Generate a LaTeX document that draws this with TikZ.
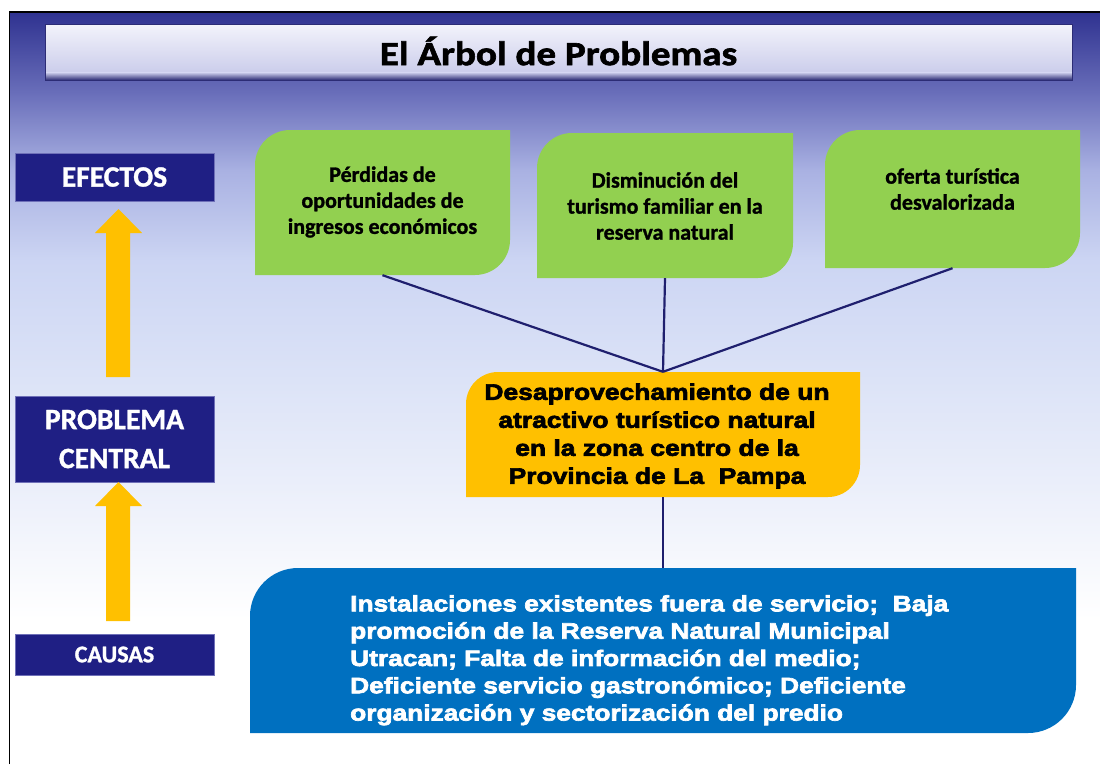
\documentclass[tikz,border=0pt]{standalone}
\usepackage{fontspec}
\newfontfamily\calfont{Carlito}[BoldFeatures={FakeBold=1.2}]
\newfontfamily\titlefont{Carlito}[FakeStretch=1.15,BoldFeatures={FakeBold=1.8}]
\newfontfamily\blkfont{Liberation Sans Bold}[FakeStretch=1.18,FakeBold=3]
\definecolor{navy}{HTML}{1F1F84}
\definecolor{labb}{HTML}{6F70B8}
\definecolor{leaf}{HTML}{92D050}
\definecolor{amber}{HTML}{FFC000}
\definecolor{cblue}{HTML}{0070C0}
\definecolor{linec}{HTML}{1F1F6E}
\definecolor{bgA}{HTML}{2F3290}
\definecolor{bgB}{HTML}{6B70BB}
\definecolor{bgC}{HTML}{A9B1E2}
\definecolor{bgD}{HTML}{CCD5F3}
\definecolor{bgE}{HTML}{DCE3F7}
\definecolor{bgF}{HTML}{EAEEFA}
\definecolor{ttop}{HTML}{F3F3FB}
\definecolor{tbot}{HTML}{CBCDEB}
\definecolor{tdark}{HTML}{2C2C75}
\pgfdeclarelayer{background}
\pgfsetlayers{background,main}
\begin{document}
\begin{tikzpicture}[x=1pt,y=-1pt,
  conn/.style={draw=linec, line width=2.2pt},
  lab/.style={fill=navy, draw=labb, line width=0.6pt, text=white, minimum width=199pt, inner sep=0pt, align=center, font=\calfont\bfseries\fontsize{29.5}{39}\selectfont},
  area/.style={inner sep=0pt, draw=none},
  gtext/.style={inner sep=0pt, align=center, text=black, font=\calfont\bfseries\fontsize{22}{26}\selectfont},
  btext/.style={inner sep=0pt, align=left, text=white, font=\blkfont\fontsize{22.3}{27.3}\selectfont},
  otext/.style={inner sep=0pt, align=center, text=black, font=\blkfont\fontsize{22.4}{28}\selectfont},
  tlbr/.style n args={5}{insert path={(#1,#4) -- (#1,#2+#5) .. controls (#1,#2+0.448*#5) and (#1+0.448*#5,#2) .. (#1+#5,#2) -- (#3,#2) -- (#3,#4-#5) .. controls (#3,#4-0.448*#5) and (#3-0.448*#5,#4) .. (#3-#5,#4) -- cycle}}
]
\useasboundingbox (0,0) rectangle (1100,764);

\begin{pgfonlayer}{background}
  \fill[white] (0,0) rectangle (1100,764);
  \shade[top color=bgA, bottom color=bgB] (10,12) rectangle (1100,95.5);
  \shade[top color=bgB, bottom color=bgC] (10,95) rectangle (1100,170.5);
  \shade[top color=bgC, bottom color=bgD] (10,170) rectangle (1100,260.5);
  \shade[top color=bgD, bottom color=bgE] (10,260) rectangle (1100,380.5);
  \shade[top color=bgE, bottom color=bgF] (10,380) rectangle (1100,480.5);
  \shade[top color=bgF, bottom color=white] (10,480) rectangle (1100,620);
  % boxes
  \fill[leaf] [tlbr={255}{130}{510}{275}{35}];
  \fill[leaf] [tlbr={537}{133}{793}{278}{35}];
  \fill[leaf] [tlbr={825}{130}{1080}{268}{35}];
  \fill[amber] [tlbr={466}{372}{860}{497}{32}];
  \fill[cblue] [tlbr={250}{568}{1076}{733}{48}];
\end{pgfonlayer}

% frame
\draw[black, line width=1.6pt] (9.5,764) -- (9.5,12) -- (1100,12);

% title bar
\shade[top color=ttop, bottom color=tbot] (45,24) rectangle (1072,73);
\shade[top color=tbot, bottom color=tdark] (45,72.5) rectangle (1072,80);
\draw[tdark, line width=0.8pt] (45,24) rectangle (1072,80);
\node[inner sep=0pt, font=\titlefont\bfseries\fontsize{34}{38}\selectfont] (title) at (558.5,51) {El Árbol de Problemas};

% left labels
\node[lab, minimum height=48pt] (efe) at (114.5,177) {EFECTOS};
\node[lab, minimum height=86pt] (pc) at (114.5,439) {PROBLEMA\\CENTRAL};
\node[lab, minimum height=41pt, font=\calfont\bfseries\fontsize{24}{28}\selectfont] (cau) at (114.5,654.5) {CAUSAS};

% yellow arrows
\fill[amber] (106,377) -- (106,233) -- (95,233) -- (118.5,209) -- (142,233) -- (130,233) -- (130,377) -- cycle;
\fill[amber] (106,621) -- (106,506) -- (95,506) -- (118.5,482) -- (142,506) -- (130,506) -- (130,621) -- cycle;

% box nodes
\node[area, minimum width=255pt, minimum height=145pt] (g1) at (382.5,202.5) {};
\node[area, minimum width=256pt, minimum height=145pt] (g2) at (665,205.5) {};
\node[area, minimum width=255pt, minimum height=138pt] (g3) at (952.5,199) {};
\node[area, minimum width=394pt, minimum height=125pt] (core) at (663,434.5) {};
\node[area, minimum width=826pt, minimum height=165pt] (cause) at (663,650.5) {};

% texts
\node[gtext] (g1t) at (382.5,202) {Pérdidas de\\oportunidades de\\ingresos económicos};
\node[gtext] (g2t) at (665,206) {Disminución del\\turismo familiar en la\\reserva natural};
\node[gtext] (g3t) at (952.5,189) {oferta turística\\desvalorizada};
\node[otext] (coret) at (657,436) {Desaprovechamiento de un\\atractivo turístico natural\\en la zona centro de la\\Provincia de La\ \ Pampa};
\node[btext, anchor=north west] (bt) at (350,595) {Instalaciones existentes fuera de servicio;\ \ Baja\\promoción de la Reserva Natural Municipal\\Utracan; Falta de información del medio;\\Deficiente servicio gastronómico; Deficiente\\organización y sectorización del predio};

% connectors
\draw[conn] (g1.south) -- (core.north);
\draw[conn] (g2.south) -- (core.north);
\draw[conn] (g3.south) -- (core.north);
\draw[conn] (core.south) -- (cause.north);
\end{tikzpicture}
\end{document}
